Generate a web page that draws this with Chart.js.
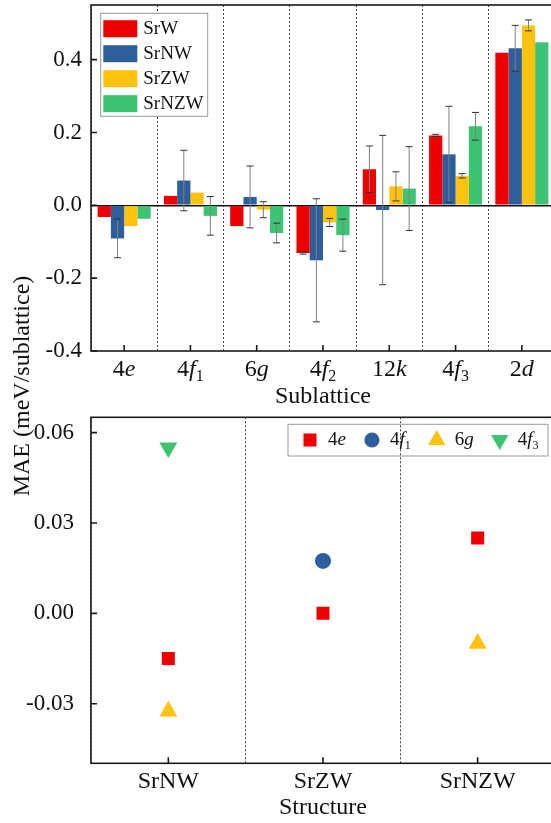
<!DOCTYPE html>
<html>
<head>
<meta charset="utf-8">
<script src="https://cdn.jsdelivr.net/npm/chart.js@4.4.1/dist/chart.umd.min.js"></script>
<style>
  html, body { margin: 0; padding: 0; background: #fff; overflow: hidden; width: 551px; height: 823px; }
  .panel { position: absolute; left: 0; }
  #topPanel { top: 0; }
  #bottomPanel { top: 410px; }
  #yTitle {
    position: absolute; left: -128px; top: 372px; width: 300px; height: 28px;
    line-height: 28px; text-align: center; color: #111;
    font: 24px 'Liberation Serif', 'Times New Roman', serif;
    transform: rotate(-90deg);
  }
</style>
</head>
<body>
<div class="panel" id="topPanel"><canvas id="barChart" width="556" height="410"></canvas></div>
<div class="panel" id="bottomPanel"><canvas id="scatterChart" width="556" height="413"></canvas></div>
<div id="yTitle">MAE (meV/sublattice)</div>
<script>
// top panel: MAE per sublattice for each structure
const sublattices = ['4e', '4f1', '6g', '4f2', '12k', '4f3', '2d'];
const srW      = [-0.032, 0.026, -0.057, -0.131, 0.099, 0.192, 0.419];
const srWErr   = [null, null, null, 0.003, 0.064, 0.003, null];
const srNW     = [-0.091, 0.068, 0.023, -0.151, -0.013, 0.140, 0.431];
const srNWErr  = [0.053, 0.083, 0.085, 0.169, 0.205, 0.132, 0.063];
const srZW     = [-0.057, 0.035, -0.012, -0.047, 0.052, 0.081, 0.494];
const srZWErr  = [null, null, 0.022, 0.011, 0.040, 0.006, 0.015];
const srNZW    = [-0.037, -0.029, -0.076, -0.082, 0.046, 0.217, 0.448];
const srNZWErr = [null, 0.053, 0.027, 0.044, 0.115, 0.038, null];
const barTicks = [-0.4, -0.2, 0, 0.2, 0.4];

// bottom panel: MAE per structure for a few sublattices
const structures = ['SrNW', 'SrZW', 'SrNZW'];
const mae4e  = [-0.015, 0.000, 0.025];
const mae4f1 = [null, 0.0174, null];
const mae6g  = [-0.0325, null, -0.010];
const mae4f3 = [0.055, null, null];
const scatterTicks = [-0.03, 0, 0.03, 0.06];

const FONT = "'Liberation Serif', 'Times New Roman', serif";
const RED = '#EE0000', BLUE = '#2E5E9B', YELLOW = '#FFC20E', GREEN = '#3CC373';

Chart.defaults.font.family = FONT;
Chart.defaults.color = '#111';

// labels like 4f1 -> "4" + italic "f" + subscript "1"
function richParts(label) {
    const m = /^(\d+)([a-z])(\d?)$/.exec(label);
    if (!m) return [{ text: label }];
    const parts = [{ text: m[1] }, { text: m[2], italic: true }];
    if (m[3]) parts.push({ text: m[3], sub: true });
    return parts;
}
function partFont(p, size) {
    return (p.italic ? 'italic ' : '') + (p.sub ? Math.round(size * 0.65) : size) + 'px ' + FONT;
}
function drawRich(ctx, label, x, y, size, align) {
    const parts = richParts(label);
    ctx.save();
    ctx.textBaseline = 'middle';
    ctx.textAlign = 'left';
    let w = 0;
    parts.forEach(p => { ctx.font = partFont(p, size); p.w = ctx.measureText(p.text).width; w += p.w; });
    let cx = align === 'center' ? x - w / 2 : x;
    parts.forEach(p => {
        ctx.font = partFont(p, size);
        ctx.fillText(p.text, cx, y + (p.sub ? size * 0.3 : 0));
        cx += p.w;
    });
    ctx.restore();
    return w;
}

function drawMarker(ctx, style, x, y, r, rotation) {
    ctx.beginPath();
    if (style === 'rect') {
        const s = Math.SQRT1_2 * r;
        ctx.rect(x - s, y - s, 2 * s, 2 * s);
    } else if (style === 'circle') {
        ctx.arc(x, y, r, 0, Math.PI * 2);
    } else {
        let rad = (rotation || 0) * Math.PI / 180;
        for (let k = 0; k < 3; k++) {
            const px = x + Math.sin(rad) * r, py = y - Math.cos(rad) * r;
            k === 0 ? ctx.moveTo(px, py) : ctx.lineTo(px, py);
            rad += 2 * Math.PI / 3;
        }
        ctx.closePath();
    }
    ctx.fill();
}

// box frame, inward ticks and rich x labels
const framePlugin = {
    id: 'frame',
    afterDraw(chart, args, opts) {
        const { ctx, chartArea: a, scales: { x, y } } = chart;
        ctx.save();
        ctx.strokeStyle = '#1a1a1a';
        ctx.lineWidth = 1.6;
        ctx.strokeRect(a.left, a.top, a.right - a.left, a.bottom - a.top);
        ctx.beginPath();
        y.ticks.forEach(t => {
            const py = y.getPixelForValue(t.value);
            ctx.moveTo(a.left, py); ctx.lineTo(a.left + 6, py);
        });
        x.ticks.forEach((t, i) => {
            const px = x.getPixelForTick(i);
            ctx.moveTo(px, a.bottom); ctx.lineTo(px, a.bottom - 6);
        });
        ctx.stroke();
        ctx.fillStyle = '#111';
        chart.data.labels.forEach((lab, i) => {
            drawRich(ctx, lab, x.getPixelForTick(i), a.bottom + opts.labelOffset, 24, 'center');
        });
        ctx.restore();
    }
};

const errorBarPlugin = {
    id: 'errorBars',
    afterDatasetsDraw(chart) {
        const { ctx, scales: { y } } = chart;
        ctx.save();
        ctx.lineWidth = 1;
        chart.data.datasets.forEach((ds, di) => {
            const meta = chart.getDatasetMeta(di);
            ds.errors.forEach((e, i) => {
                if (e == null) return;
                const bx = meta.data[i].x;
                const y1 = y.getPixelForValue(ds.data[i] + e);
                const y2 = y.getPixelForValue(ds.data[i] - e);
                ctx.strokeStyle = '#808080';
                ctx.beginPath(); ctx.moveTo(bx, y1); ctx.lineTo(bx, y2); ctx.stroke();
                ctx.strokeStyle = '#333';
                ctx.beginPath();
                ctx.moveTo(bx - 3.5, y1); ctx.lineTo(bx + 3.5, y1);
                ctx.moveTo(bx - 3.5, y2); ctx.lineTo(bx + 3.5, y2);
                ctx.stroke();
            });
        });
        ctx.restore();
    }
};

const barLegendPlugin = {
    id: 'barLegend',
    afterDraw(chart) {
        const { ctx, chartArea: a } = chart;
        const x0 = a.left + 9.7, y0 = a.top + 8.3;
        ctx.save();
        ctx.fillStyle = '#fff';
        ctx.fillRect(x0, y0, 107, 103);
        ctx.strokeStyle = '#9a9a9a';
        ctx.lineWidth = 1;
        ctx.strokeRect(x0, y0, 107, 103);
        ctx.font = '19px ' + FONT;
        ctx.textBaseline = 'middle';
        chart.data.datasets.forEach((ds, i) => {
            const cy = y0 + 15.4 + i * 25;
            ctx.fillStyle = ds.backgroundColor;
            ctx.fillRect(x0 + 2.6, cy - 8.5, 34, 17);
            ctx.fillStyle = '#111';
            ctx.fillText(ds.label, x0 + 42.6, cy);
        });
        ctx.restore();
    }
};

const scatterLegendPlugin = {
    id: 'scatterLegend',
    afterDraw(chart) {
        const { ctx, chartArea: a } = chart;
        const x0 = a.left + 197, y0 = a.top + 7;
        ctx.save();
        ctx.strokeStyle = '#9a9a9a';
        ctx.lineWidth = 1;
        ctx.strokeRect(x0, y0, 260, 31.7);
        const cy = y0 + 15.7;
        let mx = x0 + 22;
        chart.data.datasets.forEach(ds => {
            ctx.fillStyle = ds.backgroundColor;
            drawMarker(ctx, ds.pointStyle, mx, cy, ds.legendRadius, ds.pointRotation);
            ctx.fillStyle = '#111';
            const w = drawRich(ctx, ds.label, mx + 18, cy, 19, 'left');
            mx = mx + 18 + w + 26;
        });
        ctx.restore();
    }
};

// fixed axis boxes so both panels line up with the original figure
function fixedWidth(w) { return s => { s.width = w; s.paddingTop = 0; s.paddingBottom = 0; }; }
function fixedHeight(h) { return s => { s.height = h; s.paddingLeft = 0; s.paddingRight = 0; }; }

new Chart(document.getElementById('barChart'), {
    type: 'bar',
    data: {
        labels: sublattices,
        datasets: [
            { label: 'SrW', data: srW, errors: srWErr, backgroundColor: RED },
            { label: 'SrNW', data: srNW, errors: srNWErr, backgroundColor: BLUE },
            { label: 'SrZW', data: srZW, errors: srZWErr, backgroundColor: YELLOW },
            { label: 'SrNZW', data: srNZW, errors: srNZWErr, backgroundColor: GREEN }
        ]
    },
    options: {
        responsive: false,
        animation: false,
        categoryPercentage: 0.8,
        barPercentage: 1.0,
        layout: { autoPadding: false, padding: { left: 0, top: 5, right: 1, bottom: 0 } },
        plugins: { legend: { display: false }, tooltip: { enabled: false }, frame: { labelOffset: 19 } },
        scales: {
            x: {
                offset: true,
                grid: { offset: true, color: '#444', lineWidth: 1, drawTicks: false },
                border: { display: false, dash: [2, 2] },
                ticks: { display: false },
                title: { display: true, text: 'Sublattice', color: '#111', font: { family: FONT, size: 24, lineHeight: 1 }, padding: { top: 0, bottom: 1 } },
                afterFit: fixedHeight(59)
            },
            y: {
                min: -0.4,
                max: 0.55,
                afterBuildTicks: s => { s.ticks = barTicks.map(v => ({ value: v })); },
                grid: {
                    color: c => (c.tick && c.tick.value === 0 ? '#111' : 'rgba(0,0,0,0)'),
                    lineWidth: 1.6,
                    drawTicks: false
                },
                border: { display: false },
                ticks: { color: '#111', padding: 9, font: { family: FONT, size: 23 }, callback: v => Number(v).toFixed(1) },
                afterFit: fixedWidth(91)
            }
        }
    },
    plugins: [errorBarPlugin, framePlugin, barLegendPlugin]
});

new Chart(document.getElementById('scatterChart'), {
    type: 'line',
    data: {
        labels: structures,
        datasets: [
            { label: '4e', data: mae4e, pointStyle: 'rect', pointRadius: 9.2, legendRadius: 9.2, backgroundColor: RED, pointBackgroundColor: RED },
            { label: '4f1', data: mae4f1, pointStyle: 'circle', pointRadius: 8, legendRadius: 7.5, backgroundColor: BLUE, pointBackgroundColor: BLUE },
            { label: '6g', data: mae6g, pointStyle: 'triangle', pointRadius: 10.4, legendRadius: 10, backgroundColor: YELLOW, pointBackgroundColor: YELLOW },
            { label: '4f3', data: mae4f3, pointStyle: 'triangle', pointRotation: 180, pointRadius: 10.4, legendRadius: 10, backgroundColor: GREEN, pointBackgroundColor: GREEN }
        ].map(ds => Object.assign(ds, { showLine: false, pointBorderWidth: 0, pointHoverRadius: ds.pointRadius, borderColor: ds.backgroundColor }))
    },
    options: {
        responsive: false,
        animation: false,
        layout: { autoPadding: false, padding: { left: 0, top: 7.3, right: 1, bottom: 0 } },
        plugins: { legend: { display: false }, tooltip: { enabled: false }, frame: { labelOffset: 18.4 } },
        scales: {
            x: {
                offset: true,
                grid: { offset: true, color: '#444', lineWidth: 1, drawTicks: false },
                border: { display: false, dash: [2, 2] },
                ticks: { display: false },
                title: { display: true, text: 'Structure', color: '#111', font: { family: FONT, size: 24, lineHeight: 1 }, padding: { top: 0, bottom: 3 } },
                afterFit: fixedHeight(59.7)
            },
            y: {
                min: -0.0498,
                max: 0.0651,
                afterBuildTicks: s => { s.ticks = scatterTicks.map(v => ({ value: v })); },
                grid: { display: false },
                border: { display: false },
                ticks: { color: '#111', padding: 9, font: { family: FONT, size: 23 }, callback: v => Number(v).toFixed(2) },
                afterFit: fixedWidth(91)
            }
        }
    },
    plugins: [framePlugin, scatterLegendPlugin]
});
</script>
</body>
</html>
